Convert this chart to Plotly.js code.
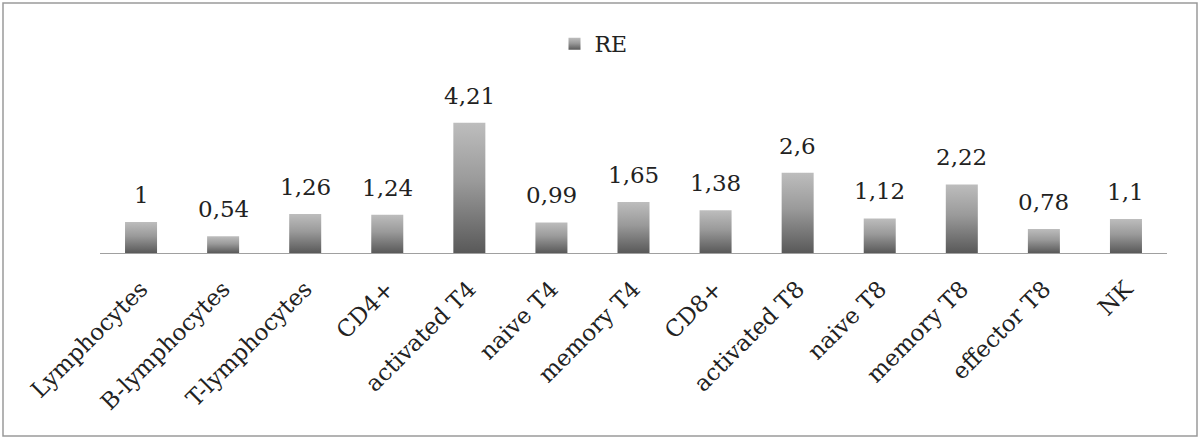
<!DOCTYPE html>
<html>
<head>
<meta charset="utf-8">
<script src="https://cdn.plot.ly/plotly-3.0.1.min.js"></script>
<style>html,body{margin:0;padding:0;background:#fff;}#chart{width:1200px;height:441px;}</style>
</head>
<body>
<div id="chart"></div>
<script>
const categories = ["Lymphocytes","B-lymphocytes","T-lymphocytes","CD4+","activated T4","naive T4","memory T4","CD8+","activated T8","naive T8","memory T8","effector T8","NK"];
const reValues = [1, 0.54, 1.26, 1.24, 4.21, 0.99, 1.65, 1.38, 2.6, 1.12, 2.22, 0.78, 1.1];
const seriesName = "RE";
const labels = reValues.map(v => String(v).replace('.', ','));

const FONT = "DejaVu Serif";
const trace = {
  type: 'bar',
  name: seriesName,
  x: categories,
  y: reValues,
  marker: {color: '#8c8c8c', line: {width: 0}},
  showlegend: true,
  hoverinfo: 'x+y'
};

const L = 100, R = 33, T = 83, B = 188;
const W = 1200, H = 441;
const pw = W - L - R, ph = H - T - B;

const valueAnnotations = categories.map((c, i) => ({
  x: c, y: reValues[i], xref: 'x', yref: 'y',
  text: labels[i], showarrow: false, yanchor: 'bottom', yshift: 12,
  font: {family: FONT, size: 23, color: '#222'}
}));

const layout = {
  width: W, height: H,
  margin: {l: L, r: R, t: T, b: B, pad: 0},
  paper_bgcolor: '#fff', plot_bgcolor: '#fff',
  font: {family: FONT, size: 22, color: '#222'},
  bargap: 0.61,
  showlegend: true,
  legend: {orientation: 'h', x: 0.5 - 40 / pw, xanchor: 'center', y: 1 + (T - 44) / ph, yanchor: 'middle',
           font: {family: FONT, size: 22, color: '#222'}, itemwidth: 30},
  xaxis: {showline: true, linecolor: '#a0a0a0', linewidth: 1.3, showgrid: false, zeroline: false,
          tickangle: -45, ticks: '', ticklabelstandoff: 12, tickfont: {family: FONT, size: 23, color: '#222'}},
  yaxis: {visible: false, range: [0, 5.5], fixedrange: true},
  annotations: valueAnnotations,
  shapes: [{type: 'rect', xref: 'paper', yref: 'paper',
            x0: (3 - L) / pw, x1: (1197 - L) / pw,
            y0: ((T + ph) - 436) / ph, y1: ((T + ph) - 3) / ph,
            line: {color: '#9a9a9a', width: 1.5}, fillcolor: 'rgba(0,0,0,0)'}]
};

Plotly.newPlot('chart', [trace], layout, {displayModeBar: false, staticPlot: true}).then(gd => {
  const svg = gd.querySelector('svg.main-svg');
  const ns = 'http://www.w3.org/2000/svg';
  let defs = svg.querySelector('defs');
  if (!defs) { defs = document.createElementNS(ns, 'defs'); svg.insertBefore(defs, svg.firstChild); }
  const grad = document.createElementNS(ns, 'linearGradient');
  grad.setAttribute('id', 'barGrad');
  grad.setAttribute('x1', '0'); grad.setAttribute('y1', '0');
  grad.setAttribute('x2', '0'); grad.setAttribute('y2', '1');
  [['0%', '#bdbdbd'], ['45%', '#9a9a9a'], ['100%', '#595959']].forEach(([o, c]) => {
    const s = document.createElementNS(ns, 'stop');
    s.setAttribute('offset', o); s.setAttribute('stop-color', c);
    grad.appendChild(s);
  });
  defs.appendChild(grad);
  gd.querySelectorAll('.trace.bars .point path, .legendpoints path').forEach(p => {
    p.style.fill = 'url(#barGrad)';
  });
});
</script>
</body>
</html>
